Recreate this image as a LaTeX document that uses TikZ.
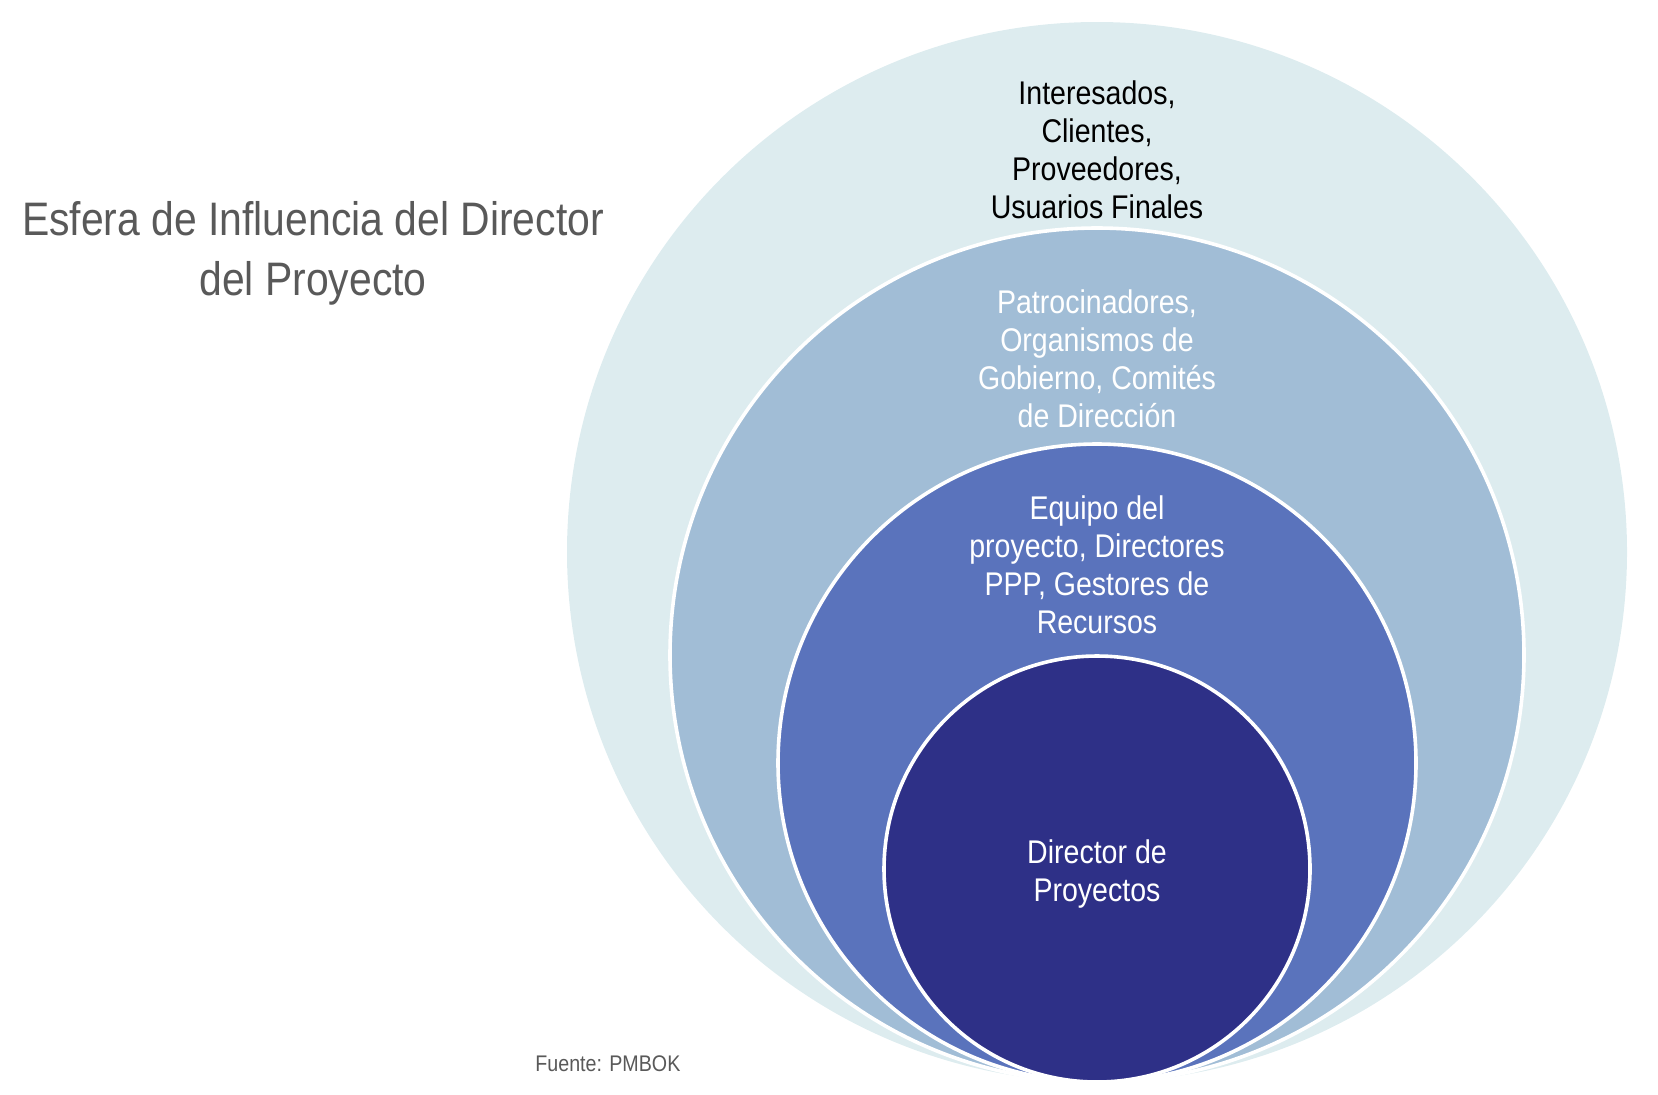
\documentclass[tikz,border=0pt]{standalone}
\usepackage{fontspec}
\setmainfont{Liberation Sans}[FakeStretch=0.87]
\definecolor{ringA}{RGB}{221,236,239}
\definecolor{ringB}{RGB}{161,189,214}
\definecolor{ringC}{RGB}{90,115,188}
\definecolor{ringD}{RGB}{46,48,135}
\definecolor{titlegray}{RGB}{89,89,89}
\tikzset{
  ring/.style={draw=white, line width=1.8pt},
  ringtext/.style={align=center, inner sep=0pt, font=\fontsize{16.4}{19}\selectfont},
}
\begin{document}
\begin{tikzpicture}[x=0.5pt,y=-0.5pt]
  \useasboundingbox (0,0) rectangle (1658,1094);
  % rings, all touching at the bottom
  \coordinate (cA) at (1097,552);
  \coordinate (cB) at (1097,655);
  \coordinate (cC) at (1097,763);
  \coordinate (cD) at (1097,869);
  \fill[ringA] (cA) circle[radius=265pt];
  \draw[ring, fill=ringB] (cB) circle[radius=213.5pt];
  \draw[ring, fill=ringC] (cC) circle[radius=159.5pt];
  \draw[ring, fill=ringD] (cD) circle[radius=106.5pt];

  \node[ringtext, text=black] (stake) at (1097,150) {Interesados,\\Clientes,\\Proveedores,\\Usuarios Finales};
  \node[ringtext, text=white] (spons) at (1097,359) {Patrocinadores,\\Organismos de\\Gobierno, Comités\\de Dirección};
  \node[ringtext, text=white] (team) at (1097,565) {Equipo del\\proyecto, Directores\\PPP, Gestores de\\Recursos};
  \node[ringtext, text=white] (pm) at (1097,874) {Director de\\Proyectos};

  \node[align=center, inner sep=0pt, text=titlegray, font=\fontsize{23.5}{30}\selectfont] (title) at (313,253) {Esfera de Influencia del Director\\del Proyecto};
  \node[anchor=base west, inner sep=0pt, text=titlegray, font=\fontsize{11.3}{13}\selectfont] (source) at (535,1071) {Fuente: PMBOK};
\end{tikzpicture}
\end{document}
